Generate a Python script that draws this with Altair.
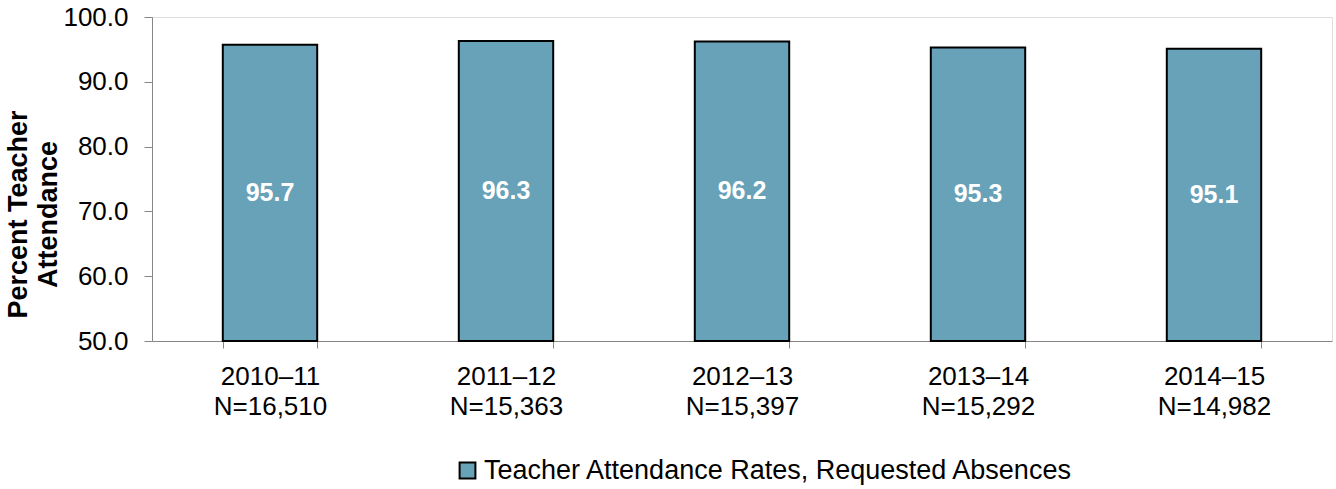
import altair as alt
import pandas as pd

# School years, staff counts and attendance rates
years = ["2010–11", "2011–12", "2012–13", "2013–14", "2014–15"]
counts = ["N=16,510", "N=15,363", "N=15,397", "N=15,292", "N=14,982"]
rates = [95.7, 96.3, 96.2, 95.3, 95.1]
series_name = "Teacher Attendance Rates, Requested Absences"
bar_color = "#67A2B8"
font = "Liberation Sans"

df = pd.DataFrame({
    "label": [f"{y}|{n}" for y, n in zip(years, counts)],
    "rate": rates,
    "series": [series_name] * len(years),
})
order = list(df["label"])

x = alt.X(
    "label:N",
    sort=order,
    scale=alt.Scale(paddingInner=0.6, paddingOuter=0.3),
    axis=alt.Axis(
        title=None,
        labelExpr="split(datum.label, '|')",
        labelAngle=0,
        labelFontSize=26,
        labelLineHeight=30,
        labelColor="#000000",
        labelPadding=15,
        tickBand="extent",
        tickSize=7,
        tickColor="#868686",
        domainColor="#868686",
        labelFont=font,
    ),
)

bars = alt.Chart(df).mark_bar(stroke="#000000", strokeWidth=2).encode(
    x=x,
    y=alt.Y(
        "rate:Q",
        scale=alt.Scale(domain=[50, 100], nice=False, zero=False),
        axis=alt.Axis(
            title=["Percent Teacher", "Attendance"],
            titleFontSize=27,
            titleFontWeight="bold",
            titleFont=font,
            titleColor="#000000",
            titleAngle=-90,
            titleAlign="center",
            titleBaseline="middle",
            titleLineHeight=30,
            titleX=-134,
            titleY=197,
            values=[50, 60, 70, 80, 90, 100],
            format=".1f",
            labelFontSize=26,
            labelFont=font,
            labelColor="#000000",
            labelPadding=16,
            tickSize=8,
            tickColor="#868686",
            domainColor="#868686",
            grid=False,
        ),
    ),
    y2=alt.datum(50),
    color=alt.Color(
        "series:N",
        scale=alt.Scale(domain=[series_name], range=[bar_color]),
        legend=alt.Legend(
            title=None,
            orient="none",
            legendX=302,
            legendY=440,
            symbolType="square",
            symbolSize=250,
            symbolStrokeColor="#000000",
            symbolStrokeWidth=2,
            symbolOpacity=1,
            labelFontSize=27,
            labelFont=font,
            labelColor="#000000",
            labelOffset=3,
            labelLimit=0,
        ),
    ),
)

labels = alt.Chart(df).transform_calculate(
    mid="(datum.rate + 50) / 2"
).mark_text(
    color="#FFFFFF", fontWeight="bold", fontSize=25, font=font, baseline="middle"
).encode(
    x=alt.X("label:N", sort=order),
    y=alt.Y("mid:Q"),
    text=alt.Text("rate:Q", format=".1f"),
)

chart = alt.layer(bars, labels).properties(
    width=1180,
    height=324,
    autosize=alt.AutoSizeParams(type="none"),
    padding={"left": 152, "top": 17, "right": 4, "bottom": 148},
).configure_view(stroke=None).configure(font=font)

chart.save("out.html", embed_options={"renderer": "svg", "actions": False})
